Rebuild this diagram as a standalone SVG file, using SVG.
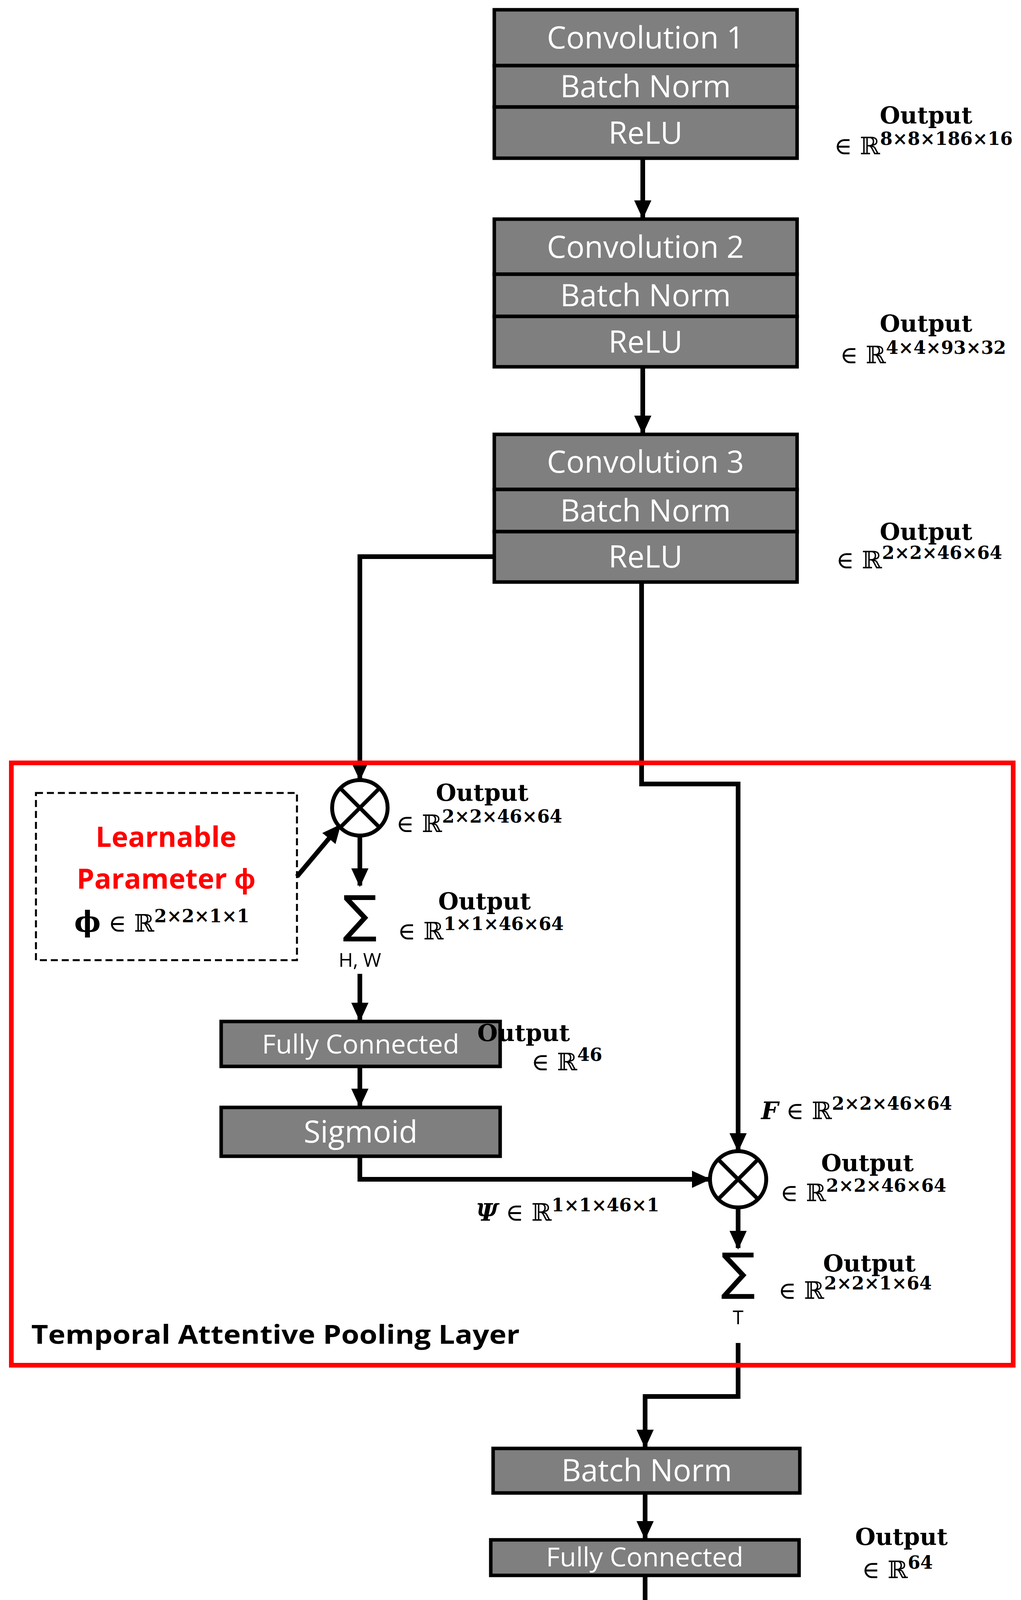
<svg xmlns="http://www.w3.org/2000/svg" width="2613" height="4961" viewBox="0 0 2613 4961">
<style>
.box{fill:#7f7f7f;stroke:#000;stroke-width:9}
.bt{font-family:"Open Sans","Liberation Sans",sans-serif;font-size:78px;fill:#fff;text-anchor:middle}
.fc{font-size:68px}
.out{font-family:"DejaVu Serif","Liberation Serif",serif;font-weight:bold;font-size:60px;fill:#000;text-anchor:middle}
.m{font-family:"DejaVu Serif","Liberation Serif",serif;font-size:62px;fill:#000}
.sup{font-family:"DejaVu Serif",serif;font-weight:bold;font-size:46px}
.c{fill:none;stroke:#000;stroke-width:12}
.sig{font-family:"DejaVu Sans",sans-serif;font-size:130px;text-anchor:middle}
.sm{font-family:"Open Sans","Liberation Sans",sans-serif;font-size:50px;text-anchor:middle}
</style>
<defs>
<marker id="ah" markerUnits="userSpaceOnUse" markerWidth="48" markerHeight="48" viewBox="0 0 48 48" refX="44" refY="24" orient="auto"><path d="M0,2 L48,24 L0,46 Z" fill="#000"/></marker>
</defs>
<g id="connectors">
<path class="c" d="M1645,405 V557" marker-end="url(#ah)"/>
<path class="c" d="M1645,939 V1108" marker-end="url(#ah)"/>
<path class="c" d="M1266,1425 H921 V1995" marker-end="url(#ah)"/>
<path class="c" d="M1642,1490 V2007 H1889 V2945" marker-end="url(#ah)"/>
<path class="c" d="M760,2244 L870,2113" marker-end="url(#ah)"/>
<path class="c" d="M921,2139 V2267" marker-end="url(#ah)"/>
<path class="c" d="M921,2493 V2611" marker-end="url(#ah)"/>
<path class="c" d="M921,2730 V2831" marker-end="url(#ah)"/>
<path class="c" d="M921,2960 V3019 H1815" marker-end="url(#ah)"/>
<path class="c" d="M1889,3091 V3195" marker-end="url(#ah)"/>
<path class="c" d="M1889,3438 V3575 H1651 V3704" marker-end="url(#ah)"/>
<path class="c" d="M1651,3822 V3938" marker-end="url(#ah)"/>
<path class="c" d="M1651,4033 V4146" marker-end="url(#ah)"/>
<path class="c" d="M1651,4264 V4367" marker-end="url(#ah)"/>
<path class="c" d="M1651,4488 V4580" marker-end="url(#ah)"/>
<path class="c" d="M1651,4702 V4816" marker-end="url(#ah)"/>
</g>
<g id="red-box"><rect x="29" y="1953" width="2564" height="1542" fill="none" stroke="#ff0000" stroke-width="12"/>
<text x="80" y="3440" font-family="Open Sans,Liberation Sans,sans-serif" font-weight="bold" font-size="66" fill="#000" textLength="1250" lengthAdjust="spacingAndGlyphs">Temporal  Attentive  Pooling  Layer</text></g>
<g id="conv1">
<rect class="box" x="1265" y="25" width="775" height="143"/><rect class="box" x="1265" y="168" width="775" height="106"/><rect class="box" x="1265" y="274" width="775" height="131"/>
<text class="bt" x="1652" y="124">Convolution 1</text><text class="bt" x="1652" y="249">Batch Norm</text><text class="bt" x="1652" y="368">ReLU</text>
<text class="out" x="2370" y="316">Output</text><text class="m" x="2135" y="395">∈ ℝ<tspan class="sup" dy="-24">8×8×186×16</tspan></text></g>
<g id="conv2">
<rect class="box" x="1265" y="561" width="775" height="141"/><rect class="box" x="1265" y="702" width="775" height="108"/><rect class="box" x="1265" y="810" width="775" height="129"/>
<text class="bt" x="1652" y="660">Convolution 2</text><text class="bt" x="1652" y="784">Batch Norm</text><text class="bt" x="1652" y="903">ReLU</text>
<text class="out" x="2370" y="849">Output</text><text class="m" x="2150" y="930">∈ ℝ<tspan class="sup" dy="-24">4×4×93×32</tspan></text></g>
<g id="conv3">
<rect class="box" x="1265" y="1112" width="775" height="141"/><rect class="box" x="1265" y="1253" width="775" height="108"/><rect class="box" x="1265" y="1361" width="775" height="129"/>
<text class="bt" x="1652" y="1210">Convolution 3</text><text class="bt" x="1652" y="1335">Batch Norm</text><text class="bt" x="1652" y="1453">ReLU</text>
<text class="out" x="2370" y="1382">Output</text><text class="m" x="2140" y="1455">∈ ℝ<tspan class="sup" dy="-24">2×2×46×64</tspan></text></g>
<g id="param">
<rect x="92" y="2030" width="668" height="428" fill="none" stroke="#000" stroke-width="5" stroke-dasharray="18,10"/>
<text x="425" y="2168" font-family="Open Sans,Liberation Sans,sans-serif" font-weight="bold" font-size="72" fill="#ff0000" text-anchor="middle">Learnable</text>
<text x="425" y="2275" font-family="Open Sans,Liberation Sans,sans-serif" font-weight="bold" font-size="72" fill="#ff0000" text-anchor="middle">Parameter ϕ</text>
<text class="m" x="190" y="2385"><tspan font-weight="bold" font-size="72">ϕ</tspan> ∈ ℝ<tspan class="sup" dy="-24">2×2×1×1</tspan></text></g>
<g id="mult1"><circle cx="921" cy="2068" r="71" fill="#fff" stroke="#000" stroke-width="10"/>
<path d="M871,2018 L971,2118 M971,2018 L871,2118" stroke="#000" stroke-width="10"/>
<text class="out" x="1234" y="2050">Output</text><text class="m" x="1014" y="2130">∈ ℝ<tspan class="sup" dy="-24">2×2×46×64</tspan></text></g>
<g id="sum1"><text class="sig" x="921" y="2385">∑</text><text class="sm" x="921" y="2475">H, W</text>
<text class="out" x="1240" y="2328">Output</text><text class="m" x="1018" y="2405">∈ ℝ<tspan class="sup" dy="-24">1×1×46×64</tspan></text></g>
<g id="fc1"><rect class="box" x="566" y="2615" width="714" height="115"/><text class="bt fc" x="923" y="2697">Fully Connected</text>
<text class="out" x="1340" y="2665" text-anchor="start">Output</text><text class="m" x="1360" y="2740">∈ ℝ<tspan class="sup" dy="-24">46</tspan></text></g>
<g id="sigmoid"><rect class="box" x="566" y="2835" width="714" height="125"/><text class="bt" x="923" y="2925">Sigmoid</text></g>
<text class="m" x="1218" y="3125"><tspan font-weight="bold" font-style="italic">Ψ</tspan> ∈ ℝ<tspan class="sup" dy="-24">1×1×46×1</tspan></text>
<text class="m" x="1948" y="2865"><tspan font-weight="bold" font-style="italic">F</tspan> ∈ ℝ<tspan class="sup" dy="-24">2×2×46×64</tspan></text>
<g id="mult2"><circle cx="1889" cy="3019" r="72" fill="#fff" stroke="#000" stroke-width="10"/>
<path d="M1838,2968 L1940,3070 M1940,2968 L1838,3070" stroke="#000" stroke-width="10"/>
<text class="out" x="2220" y="2998">Output</text><text class="m" x="1997" y="3075">∈ ℝ<tspan class="sup" dy="-24">2×2×46×64</tspan></text></g>
<g id="sum2"><text class="sig" x="1889" y="3300">∑</text><text class="sm" x="1889" y="3390">T</text>
<text class="out" x="2225" y="3255">Output</text><text class="m" x="1992" y="3325">∈  ℝ<tspan class="sup" dy="-24">2×2×1×64</tspan></text></g>
<g id="bn1"><rect class="box" x="1262" y="3708" width="785" height="114"/><text class="bt" x="1655" y="3792">Batch Norm</text></g>
<g id="fc2"><rect class="box" x="1256" y="3942" width="789" height="91"/><text class="bt fc" x="1650" y="4010">Fully Connected</text>
<text class="out" x="2307" y="3955">Output</text><text class="m" x="2206" y="4040">∈ ℝ<tspan class="sup" dy="-24">64</tspan></text></g>
<g id="bn2"><rect class="box" x="1256" y="4150" width="789" height="114"/><text class="bt" x="1650" y="4234">Batch Norm</text></g>
<g id="relu"><rect class="box" x="1256" y="4371" width="789" height="117"/><text class="bt" x="1650" y="4456">ReLU</text>
<text class="out" x="2307" y="4415">Output</text><text class="m" x="2206" y="4500">∈ ℝ<tspan class="sup" dy="-24">64</tspan></text></g>
<g id="dropout"><rect class="box" x="1256" y="4584" width="789" height="118"/><text class="bt" x="1650" y="4670">Dropout</text></g>
<g id="softmax"><rect class="box" x="1256" y="4820" width="789" height="115"/><text class="bt" x="1650" y="4904">Softmax</text>
<text class="out" x="2307" y="4850">Output</text><text class="m" x="2230" y="4935">∈ ℝ<tspan class="sup" dy="-24">2</tspan></text></g>
</svg>
